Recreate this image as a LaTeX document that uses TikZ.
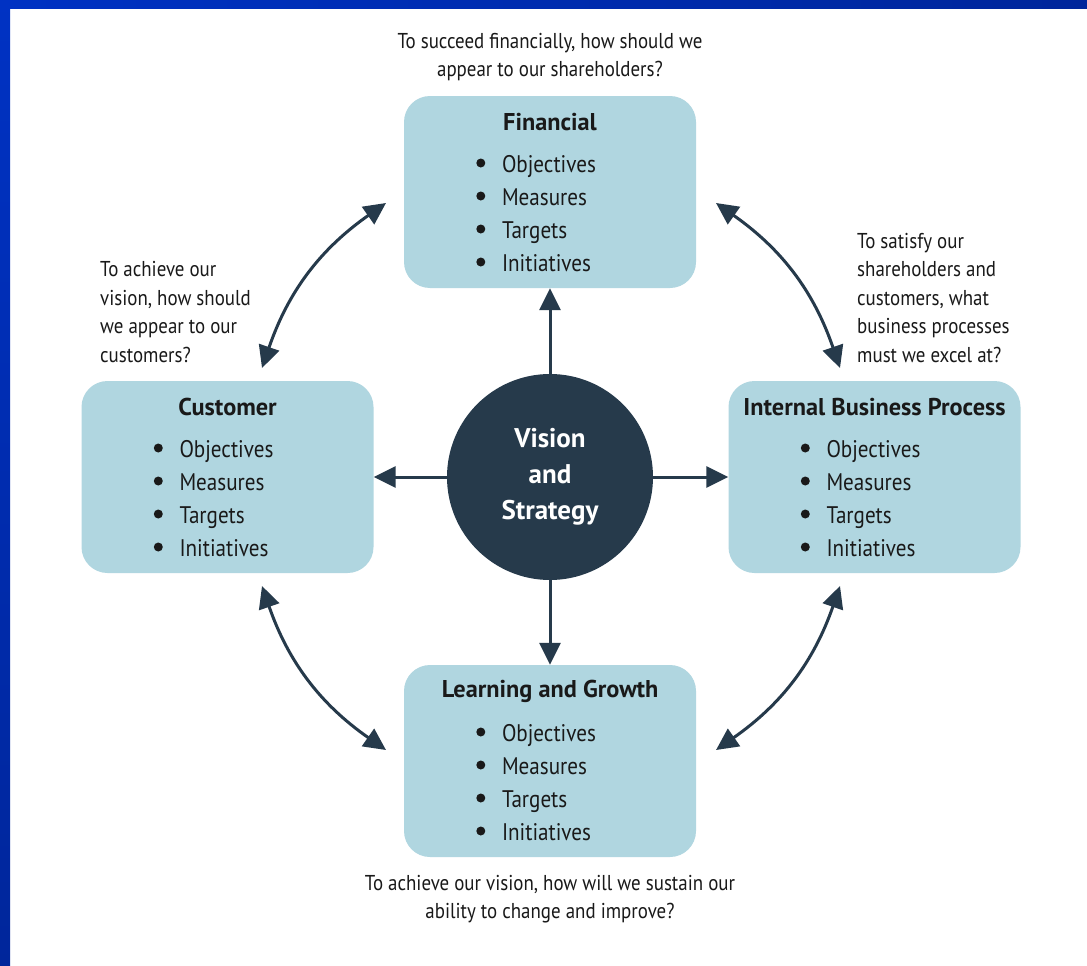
\documentclass[tikz,border=0pt]{standalone}
\usepackage{fontspec}
\setmainfont[FakeStretch=0.88, BoldFeatures={FakeStretch=1.0}]{PT Sans}
\usetikzlibrary{arrows.meta,calc}
\definecolor{boxblue}{RGB}{176,214,224}
\definecolor{navy}{RGB}{38,58,75}
\definecolor{bandA}{RGB}{0,50,195}
\definecolor{bandB}{RGB}{0,38,155}
\definecolor{txt}{RGB}{25,25,25}
\tikzset{
  pbox/.style={draw=none, fill=boxblue, rounded corners=26pt, minimum width=292pt, minimum height=192pt, inner sep=0pt},
  hub/.style={circle, fill=navy, minimum size=206pt, inner sep=0pt, text=white, align=center, font=\fontsize{27}{36}\selectfont\bfseries},
  ttl/.style={text=txt, font=\fontsize{24.3}{26}\selectfont\bfseries, inner sep=0pt},
  itm/.style={text=txt, font=\fontsize{24}{28}\selectfont, anchor=base west, inner sep=0pt},
  bdot/.style={circle, fill=txt, minimum size=9pt, inner sep=0pt},
  qtext/.style={text=txt, font=\fontsize{21.5}{28.5}\selectfont, inner sep=0pt},
  arr/.style={draw=navy, line width=3pt, -{Triangle[length=22pt,width=21pt]}},
  darr/.style={draw=navy, line width=3pt, {Triangle[length=22pt,width=21pt]}-{Triangle[length=22pt,width=21pt]}}
}
\newcommand\boxlist[2]{%
  \node[ttl] (#1-t) at ($(#1.center)+(0,-70)$) {#2};
  \foreach \w [count=\i] in {Objectives,Measures,Targets,Initiatives} {
    \node[bdot] (#1-d\i) at ($(#1.west)+(77,-62+33*\i)$) {};
    \node[itm] (#1-i\i) at ($(#1.west)+(98,-53+33*\i)$) {\w};
  }%
}
\begin{document}
\begin{tikzpicture}[x=1pt,y=-1pt]
\useasboundingbox (0,0) rectangle (1087,966);
\fill[white] (0,0) rectangle (1087,966);
\shade[left color=bandA, right color=bandB] (0,0) rectangle (1087,9);
\shade[top color=bandA, bottom color=bandB] (0,0) rectangle (10,966);

\node[pbox] (fin) at (550,192) {};
\node[pbox] (cus) at (227.5,477) {};
\node[pbox] (ibp) at (874.5,477) {};
\node[pbox] (lg) at (550,761) {};
\node[hub] (vs) at (550,477) {Vision\\and\\Strategy};

\boxlist{fin}{Financial}
\boxlist{cus}{Customer}
\boxlist{ibp}{Internal Business Process}
\boxlist{lg}{Learning and Growth}

\draw[arr] (vs) -- (fin);
\draw[arr] (vs) -- (cus);
\draw[arr] (vs) -- (ibp);
\draw[arr] (vs) -- (lg);

\coordinate (c1a) at (262,368);
\coordinate (c1b) at (386,203);
\coordinate (c2a) at (716,203);
\coordinate (c2b) at (840,368);
\coordinate (c3a) at (840,586);
\coordinate (c3b) at (716,750);
\coordinate (c4a) at (386,750);
\coordinate (c4b) at (262,586);
\draw[darr] (c1a) to[bend left=18] (c1b);
\draw[darr] (c2a) to[bend left=18] (c2b);
\draw[darr] (c3a) to[bend left=18] (c3b);
\draw[darr] (c4a) to[bend left=18] (c4b);

\node[qtext, align=center] (qt) at (550,57) {To succeed financially, how should we\\appear to our shareholders?};
\node[qtext, align=left, anchor=west] (ql) at (100,312) {To achieve our\\vision, how should\\we appear to our\\customers?};
\node[qtext, align=left, anchor=west] (qr) at (857,298) {To satisfy our\\shareholders and\\customers, what\\business processes\\must we excel at?};
\node[qtext, align=center] (qb) at (550,899) {To achieve our vision, how will we sustain our\\ability to change and improve?};
\end{tikzpicture}
\end{document}
